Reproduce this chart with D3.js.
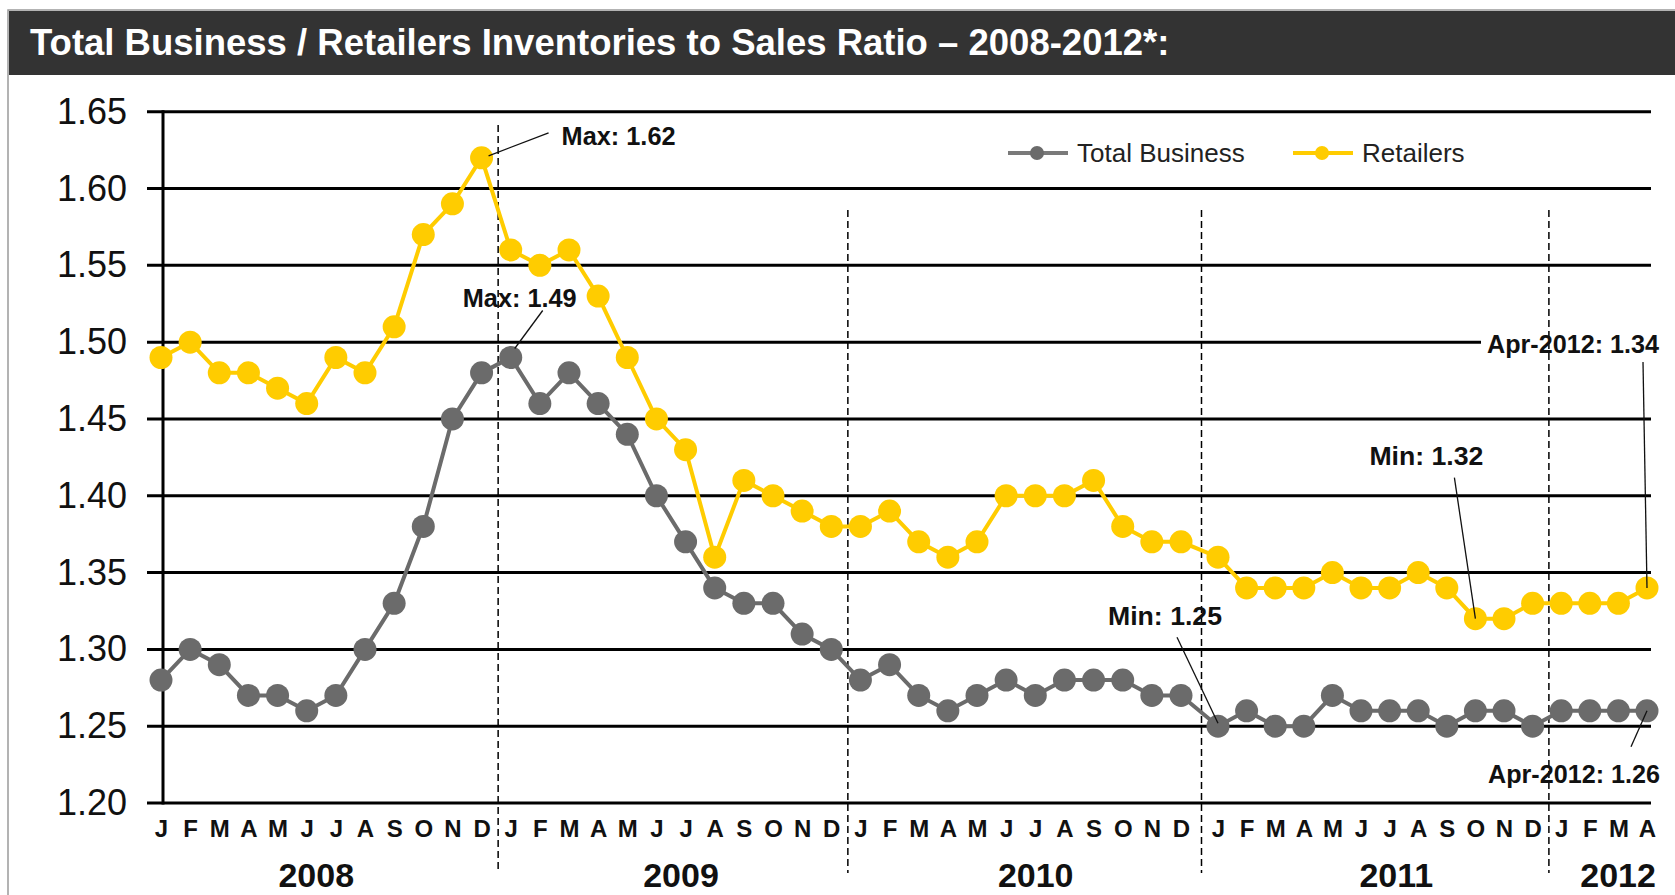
<!DOCTYPE html>
<html>
<head>
<meta charset="utf-8">
<script src="https://cdn.jsdelivr.net/npm/d3@7"></script>
<style>
  body { margin: 0; background: #fff; }
  svg { display: block; font-family: "Liberation Sans", Arial, sans-serif; }
</style>
</head>
<body>
<script>
// data
const YEARS = ['2008', '2009', '2010', '2011', '2012'];
const MONTHS_IN_YEAR = [12, 12, 12, 12, 4];
const MONTH_LETTERS = ['J', 'F', 'M', 'A', 'M', 'J', 'J', 'A', 'S', 'O', 'N', 'D'];
const Y_TICKS = [1.20, 1.25, 1.30, 1.35, 1.40, 1.45, 1.50, 1.55, 1.60, 1.65];

const TOTAL_BUSINESS = [
  1.28, 1.30, 1.29, 1.27, 1.27, 1.26, 1.27, 1.30, 1.33, 1.38, 1.45, 1.48,
  1.49, 1.46, 1.48, 1.46, 1.44, 1.40, 1.37, 1.34, 1.33, 1.33, 1.31, 1.30,
  1.28, 1.29, 1.27, 1.26, 1.27, 1.28, 1.27, 1.28, 1.28, 1.28, 1.27, 1.27,
  1.25, 1.26, 1.25, 1.25, 1.27, 1.26, 1.26, 1.26, 1.25, 1.26, 1.26, 1.25,
  1.26, 1.26, 1.26, 1.26
];
const RETAILERS = [
  1.49, 1.50, 1.48, 1.48, 1.47, 1.46, 1.49, 1.48, 1.51, 1.57, 1.59, 1.62,
  1.56, 1.55, 1.56, 1.53, 1.49, 1.45, 1.43, 1.36, 1.41, 1.40, 1.39, 1.38,
  1.38, 1.39, 1.37, 1.36, 1.37, 1.40, 1.40, 1.40, 1.41, 1.38, 1.37, 1.37,
  1.36, 1.34, 1.34, 1.34, 1.35, 1.34, 1.34, 1.35, 1.34, 1.32, 1.32, 1.33,
  1.33, 1.33, 1.33, 1.34
];

const GRAY = '#6b6b6b';
const YELLOW = '#ffcc00';

const WIDTH = 1675, HEIGHT = 895;
const svg = d3.select('body').append('svg').attr('width', WIDTH).attr('height', HEIGHT);

// layers, bottom to top
const gBack = svg.append('g');
const gGrid = svg.append('g');
const gBox = svg.append('g');
const gDiv = svg.append('g');
const gSeries = svg.append('g');
const gLead = svg.append('g');
const gNote = svg.append('g');
const gLegend = svg.append('g');

// month list for the x axis
const monthLabels = [];
const yearStart = [];
MONTHS_IN_YEAR.forEach((n, yi) => {
  yearStart.push(monthLabels.length);
  for (let m = 0; m < n; m++) monthLabels.push(MONTH_LETTERS[m]);
});
const N = monthLabels.length;

// the original has a small jump between Dec-2010 and Jan-2011
const x = d3.scaleLinear().domain([0, 35, 36, N - 1]).range([161, 1181, 1218, 1647]);
const y = d3.scaleLinear().domain([1.2, 1.65]).range([803, 111.7]);

// frame + title bar
gBack.append('path').attr('d', 'M8,895 V10 H1675').attr('fill', 'none').attr('stroke', '#9a9a9a').attr('stroke-width', 1.5);
gBack.append('rect').attr('x', 9).attr('y', 11).attr('width', WIDTH - 9).attr('height', 64).attr('fill', '#333333');
gBack.append('text')
  .attr('x', 30).attr('y', 55)
  .attr('fill', 'white').attr('font-weight', 'bold').attr('font-size', 36.5)
  .text('Total Business / Retailers Inventories to Sales Ratio \u2013 2008-2012*:');

// gridlines
gGrid.selectAll('line.grid')
  .data(Y_TICKS).enter().append('line').attr('class', 'grid')
  .attr('x1', 147).attr('x2', 1651)
  .attr('y1', d => y(d)).attr('y2', d => y(d))
  .attr('stroke', '#000').attr('stroke-width', 3);

// y axis
const axisY = d3.axisLeft(y).tickValues(Y_TICKS).tickSize(0).tickPadding(36).tickFormat(d3.format('.2f'));
const gy = gGrid.append('g').attr('transform', 'translate(163,0)').call(axisY);
gy.select('.domain').remove();
gy.selectAll('text').attr('font-size', 36).attr('fill', '#111').attr('font-family', '"Liberation Sans", Arial, sans-serif');
gGrid.append('line').attr('x1', 163).attr('x2', 163).attr('y1', y(1.65) - 1.5).attr('y2', y(1.2) + 1.5)
  .attr('stroke', '#000').attr('stroke-width', 3);

// x axis (month letters)
const axisX = d3.axisBottom(x).tickValues(d3.range(N)).tickSize(0).tickFormat(i => monthLabels[i]);
const gx = gGrid.append('g').attr('transform', `translate(0,${y(1.2)})`).call(axisX);
gx.select('.domain').remove();
gx.selectAll('text').attr('y', 34).attr('dy', null)
  .attr('font-size', 24).attr('font-weight', 'bold').attr('fill', '#111')
  .attr('font-family', '"Liberation Sans", Arial, sans-serif');

// year labels, centred under their months with a small nudge
const YEAR_NUDGE = [-5, 10, 15, 21, 14];
gGrid.append('g').selectAll('text')
  .data(YEARS).enter().append('text')
  .attr('x', (d, i) => x(yearStart[i] + (MONTHS_IN_YEAR[i] - 1) / 2) + YEAR_NUDGE[i])
  .attr('y', 887)
  .attr('text-anchor', 'middle').attr('font-size', 34).attr('font-weight', 'bold').attr('fill', '#111')
  .text(d => d);

// year dividers
const DIVIDER_TOP = [125, 210, 210, 210];
gDiv.selectAll('line')
  .data(yearStart.slice(1)).enter().append('line')
  .attr('x1', d => x(d - 0.5) + 2).attr('x2', d => x(d - 0.5) + 2)
  .attr('y1', (d, i) => DIVIDER_TOP[i]).attr('y2', 873)
  .attr('stroke', '#000').attr('stroke-width', 1.5).attr('stroke-dasharray', '7,4');

// series
const line = d3.line().x((d, i) => x(i)).y(d => y(d));
[[TOTAL_BUSINESS, GRAY], [RETAILERS, YELLOW]].forEach(([vals, col]) => {
  const g = gSeries.append('g');
  g.append('path').datum(vals).attr('d', line).attr('fill', 'none').attr('stroke', col).attr('stroke-width', 4);
  g.selectAll('circle').data(vals).enter().append('circle')
    .attr('cx', (d, i) => x(i)).attr('cy', d => y(d)).attr('r', 11.5).attr('fill', col);
});

// annotations (label offsets relative to the point)
const NOTES = [
  { s: RETAILERS, i: 11, text: 'Max: 1.62', dx: 80, dy: -13, l0: [7, -2], l1: [67, -25] },
  { s: TOTAL_BUSINESS, i: 12, text: 'Max: 1.49', dx: -48, dy: -50, l0: [4, -9], l1: [32, -47] },
  { s: TOTAL_BUSINESS, i: 36, text: 'Min: 1.25', dx: -110, dy: -101, l0: [0, -3], l1: [-41, -89] },
  { s: RETAILERS, i: 45, text: 'Min: 1.32', dx: -106, dy: -154, l0: [0, 0], l1: [-21, -141] },
  { s: RETAILERS, i: 51, text: 'Apr-2012: 1.34', dx: -160, dy: -235, l0: [0, 0], l1: [-4, -226], bg: true },
  { s: TOTAL_BUSINESS, i: 51, text: 'Apr-2012: 1.26', dx: -159, dy: 72, l0: [0, 0], l1: [-16, 36] }
];

gLead.selectAll('line')
  .data(NOTES).enter().append('line')
  .attr('x1', d => x(d.i) + d.l0[0]).attr('y1', d => y(d.s[d.i]) + d.l0[1])
  .attr('x2', d => x(d.i) + d.l1[0]).attr('y2', d => y(d.s[d.i]) + d.l1[1])
  .attr('stroke', '#111').attr('stroke-width', 1.3);

const noteText = gNote.selectAll('text')
  .data(NOTES).enter().append('text')
  .attr('x', d => x(d.i) + d.dx)
  .attr('y', d => y(d.s[d.i]) + d.dy)
  .attr('font-size', 25.5).attr('font-weight', 'bold').attr('fill', '#111')
  .attr('textLength', d => d.text.length > 10 ? 172 : 114)
  .attr('lengthAdjust', 'spacingAndGlyphs')
  .text(d => d.text);

// white box behind the label that sits on a gridline
noteText.filter(d => d.bg).each(function () {
  const b = this.getBBox();
  gBox.append('rect')
    .attr('x', b.x - 6).attr('y', b.y + 2).attr('width', b.width + 12).attr('height', b.height - 2)
    .attr('fill', '#fff');
});

// legend
const LEGEND = [
  { name: 'Total Business', color: GRAY, line: '#7a7a7a', x: 1008 },
  { name: 'Retailers', color: YELLOW, line: YELLOW, x: 1293 }
];
const lg = gLegend.selectAll('g').data(LEGEND).enter().append('g')
  .attr('transform', d => `translate(${d.x},153)`);
lg.append('line').attr('x1', 0).attr('x2', 60).attr('stroke', d => d.line).attr('stroke-width', 4);
lg.append('circle').attr('cx', 29).attr('r', 7).attr('fill', d => d.color);
lg.append('text').attr('x', 69).attr('y', 9).attr('font-size', 26).attr('fill', '#222').text(d => d.name);
</script>
</body>
</html>
